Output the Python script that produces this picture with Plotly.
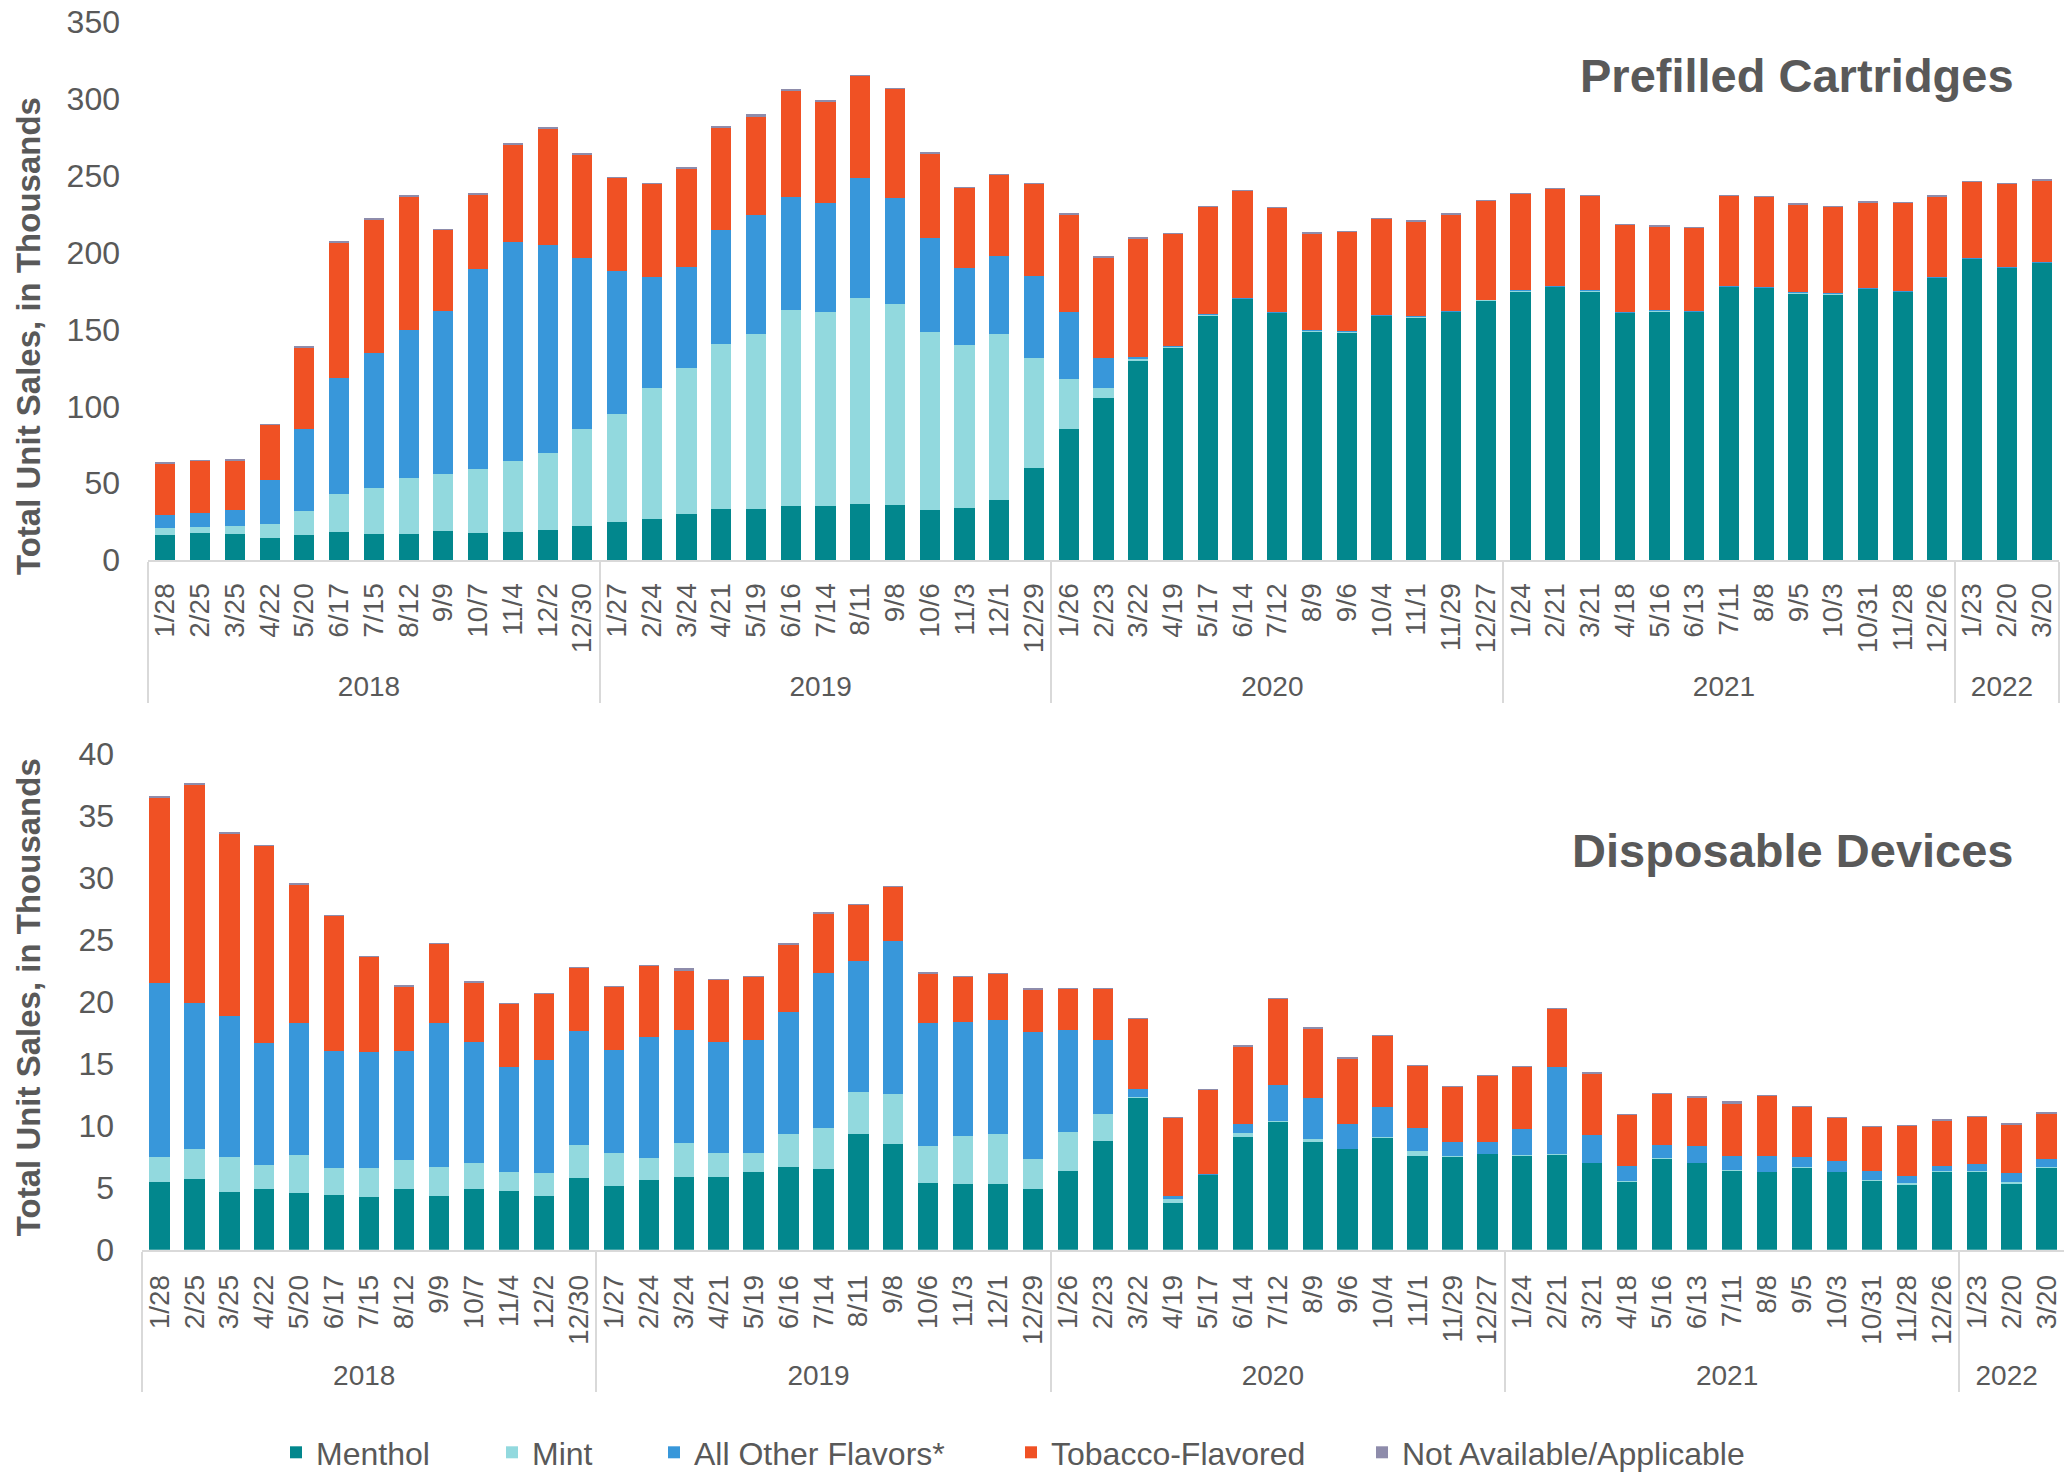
import plotly.graph_objects as go

# ---------------- categories ----------------
week_labels = ["1/28", "2/25", "3/25", "4/22", "5/20", "6/17", "7/15", "8/12", "9/9", "10/7", "11/4", "12/2", "12/30",
               "1/27", "2/24", "3/24", "4/21", "5/19", "6/16", "7/14", "8/11", "9/8", "10/6", "11/3", "12/1", "12/29",
               "1/26", "2/23", "3/22", "4/19", "5/17", "6/14", "7/12", "8/9", "9/6", "10/4", "11/1", "11/29", "12/27",
               "1/24", "2/21", "3/21", "4/18", "5/16", "6/13", "7/11", "8/8", "9/5", "10/3", "10/31", "11/28", "12/26",
               "1/23", "2/20", "3/20"]
years = ["2018", "2019", "2020", "2021", "2022"]
weeks_per_year = [13, 13, 13, 13, 3]
year_labels = [y for y, n in zip(years, weeks_per_year) for _ in range(n)]

series_names = ["Menthol", "Mint", "All Other Flavors*", "Tobacco-Flavored", "Not Available/Applicable"]
series_colors = ["#02878D", "#92D9DE", "#3897DA", "#F05124", "#8E8CAB"]

# ---------------- Prefilled Cartridges (thousands) ----------------
cart_menthol = [16.5, 17.7, 17.0, 14.5, 16.3, 18.2, 17.2, 17.0, 18.7, 17.7, 18.5, 19.7, 22.2,
                24.5, 26.7, 30.0, 32.9, 33.4, 35.1, 35.1, 36.4, 35.6, 32.7, 33.9, 39.1, 60.1,
                85.6, 105.2, 130.0, 138.4, 159.2, 170.0, 161.0, 148.9, 148.2, 158.8, 158.0, 161.3, 168.9,
                174.9, 177.6, 174.9, 160.8, 161.8, 161.3, 177.6, 176.9, 173.6, 172.9, 176.4, 174.4, 183.5,
                196.1, 190.2, 193.2]
cart_mint = [4.4, 3.7, 5.2, 8.9, 15.7, 24.9, 29.4, 36.2, 37.2, 41.7, 46.0, 50.0, 62.8,
             70.8, 85.3, 95.0, 107.4, 113.6, 127.5, 126.5, 133.9, 130.9, 115.5, 106.1, 107.9, 71.2,
             32.2, 6.9, 1.0, 0.2, 0.2, 0.2, 0.2, 0.2, 0.2, 0.2, 0.2, 0.2, 0.2,
             0.2, 0.2, 0.2, 0.2, 0.2, 0.2, 0.2, 0.2, 0.2, 0.2, 0.2, 0.2, 0.2,
             0.2, 0.2, 0.2]
cart_other = [8.7, 8.9, 10.6, 28.8, 53.0, 75.4, 88.1, 96.3, 106.4, 130.0, 142.4, 135.0, 111.3,
              92.6, 72.0, 65.6, 74.6, 77.5, 73.8, 70.6, 78.0, 69.1, 61.6, 50.3, 51.0, 53.7,
              43.5, 19.3, 1.4, 0.4, 0.4, 0.4, 0.4, 0.4, 0.7, 0.7, 0.4, 0.4, 0.4,
              0.4, 0.4, 0.4, 0.4, 0.4, 0.4, 0.4, 0.4, 0.4, 0.4, 0.4, 0.4, 0.4,
              0.4, 0.4, 0.8]
cart_tobacco = [33.2, 34.2, 32.0, 35.7, 52.9, 88.2, 86.5, 87.2, 52.5, 48.3, 63.3, 76.3, 67.0,
                60.6, 60.8, 63.6, 66.5, 64.3, 69.1, 65.8, 67.0, 70.9, 54.9, 52.0, 52.8, 60.0,
                63.7, 65.6, 77.0, 73.4, 70.1, 69.8, 67.4, 63.0, 64.6, 62.4, 61.8, 63.1, 64.2,
                62.9, 63.5, 61.5, 56.8, 54.8, 54.1, 58.8, 58.7, 57.3, 56.5, 55.7, 57.3, 52.6,
                49.4, 53.8, 52.9]
cart_na = [0.3, 0.3, 1.2, 0.3, 1.3, 1.2, 1.2, 0.3, 0.3, 1.2, 1.2, 0.3, 1.5,
           0.3, 0.3, 1.5, 0.3, 1.2, 1.2, 1.0, 0.2, 0.2, 0.2, 0.2, 0.2, 0.2,
           0.2, 0.2, 0.2, 0.2, 0.2, 0.2, 0.2, 0.2, 0.2, 0.2, 0.2, 0.2, 0.2,
           0.2, 0.2, 0.2, 0.2, 0.2, 0.2, 0.2, 0.2, 0.2, 0.2, 0.2, 0.2, 0.2,
           0.2, 0.2, 0.2]

# ---------------- Disposable Devices (thousands) ----------------
disp_menthol = [5.43, 5.69, 4.66, 4.86, 4.54, 4.37, 4.23, 4.86, 4.31, 4.89, 4.69, 4.31, 5.74,
                5.10, 5.60, 5.85, 5.86, 6.29, 6.63, 6.49, 9.34, 8.54, 5.37, 5.31, 5.26, 4.86,
                6.34, 8.74, 12.20, 3.77, 6.03, 9.11, 10.31, 8.66, 8.09, 9.00, 7.51, 7.49, 7.69,
                7.57, 7.66, 6.97, 5.46, 7.31, 6.97, 6.37, 6.23, 6.57, 6.23, 5.57, 5.17, 6.26,
                6.31, 5.31, 6.60]
disp_mint = [2.03, 2.42, 2.80, 2.00, 3.12, 2.20, 2.34, 2.37, 2.32, 2.08, 1.57, 1.89, 2.66,
             2.65, 1.80, 2.75, 1.94, 1.51, 2.71, 3.28, 3.40, 3.97, 2.97, 3.83, 4.03, 2.45,
             3.12, 2.20, 0.14, 0.29, 0.00, 0.26, 0.04, 0.25, 0.05, 0.05, 0.43, 0.05, 0.05,
             0.05, 0.05, 0.05, 0.05, 0.05, 0.05, 0.05, 0.05, 0.09, 0.05, 0.05, 0.17, 0.05,
             0.05, 0.12, 0.05]
disp_other = [14.04, 11.79, 11.37, 9.83, 10.63, 9.43, 9.34, 8.74, 11.66, 9.74, 8.43, 9.11, 9.20,
              8.31, 9.71, 9.11, 8.94, 9.11, 9.80, 12.54, 10.52, 12.35, 9.95, 9.23, 9.22, 10.20,
              8.28, 5.97, 0.63, 0.23, 0.05, 0.77, 2.94, 3.35, 2.00, 2.44, 1.89, 1.12, 0.92,
              2.07, 7.03, 2.21, 1.23, 1.07, 1.35, 1.15, 1.23, 0.80, 0.83, 0.69, 0.57, 0.43,
              0.58, 0.74, 0.66]
disp_tobacco = [14.90, 17.56, 14.71, 15.82, 11.14, 10.89, 7.66, 5.17, 6.37, 4.83, 5.08, 5.32, 5.09,
                5.14, 5.75, 4.78, 4.97, 5.06, 5.43, 4.78, 4.54, 4.34, 3.97, 3.60, 3.69, 3.46,
                3.26, 4.09, 5.60, 6.31, 6.78, 6.23, 6.94, 5.57, 5.26, 5.74, 5.00, 4.48, 5.34,
                5.05, 4.63, 4.97, 4.12, 4.14, 3.89, 4.14, 4.86, 4.05, 3.49, 3.55, 4.03, 3.60,
                3.77, 3.92, 3.66]
disp_na = [0.20, 0.12, 0.12, 0.02, 0.02, 0.02, 0.02, 0.17, 0.02, 0.02, 0.02, 0.02, 0.02,
           0.02, 0.02, 0.17, 0.02, 0.02, 0.14, 0.14, 0.02, 0.02, 0.02, 0.02, 0.02, 0.02,
           0.02, 0.02, 0.02, 0.02, 0.02, 0.02, 0.02, 0.02, 0.02, 0.02, 0.02, 0.02, 0.02,
           0.02, 0.02, 0.02, 0.02, 0.02, 0.02, 0.29, 0.02, 0.02, 0.02, 0.02, 0.02, 0.20,
           0.02, 0.02, 0.02]

cart_series = [cart_menthol, cart_mint, cart_other, cart_tobacco, cart_na]
disp_series = [disp_menthol, disp_mint, disp_other, disp_tobacco, disp_na]

W, H = 2066, 1480
TEXT = "#595959"
FONT = "Liberation Sans, Arial, sans-serif"

# one legend per series so the entries sit where the reference puts them
legend_ids = ["legend", "legend2", "legend3", "legend4", "legend5"]
legend_left_px = [276, 492, 654, 1011, 1362]

fig = go.Figure()
x_multi = [year_labels, week_labels]

for name, color, vals, lid in zip(series_names, series_colors, cart_series, legend_ids):
    fig.add_trace(go.Bar(x=x_multi, y=vals, name=name, marker=dict(color=color, line=dict(width=0)),
                         xaxis="x", yaxis="y", legendgroup=name, showlegend=True, legend=lid))
for name, color, vals in zip(series_names, series_colors, disp_series):
    fig.add_trace(go.Bar(x=x_multi, y=vals, name=name, marker=dict(color=color, line=dict(width=0)),
                         xaxis="x2", yaxis="y2", legendgroup=name, showlegend=False))

xaxis_common = dict(
    type="multicategory", showline=True, linecolor="#D9D9D9", linewidth=2,
    tickangle=-90, tickfont=dict(family=FONT, size=28, color=TEXT),
    showdividers=True, dividercolor="#D9D9D9", dividerwidth=2,
    ticks="", showgrid=False, zeroline=False, automargin=False,
)
yaxis_common = dict(
    showgrid=False, zeroline=False, showline=False, ticks="",
    tickfont=dict(family=FONT, size=32, color=TEXT), automargin=False,
    ticklabelstandoff=27,
)

legend_layout = {}
for lid, lx in zip(legend_ids, legend_left_px):
    legend_layout[lid] = dict(orientation="h", x=lx / W, xanchor="left", y=1 - 1438 / H, yanchor="top",
                              font=dict(family=FONT, size=32, color=TEXT), bgcolor="rgba(0,0,0,0)",
                              itemwidth=30)

fig.update_layout(
    width=W, height=H,
    margin=dict(l=0, r=0, t=0, b=0),
    paper_bgcolor="white", plot_bgcolor="white",
    barmode="stack", bargap=0.42,
    font=dict(family=FONT, color=TEXT),
    xaxis=dict(domain=[148 / W, 2059 / W], anchor="y", ticklabelstandoff=10, **xaxis_common),
    yaxis=dict(domain=[1 - 565 / H, 1 - 22.4 / H], range=[0, 350], dtick=50, anchor="x", **yaxis_common),
    xaxis2=dict(domain=[142 / W, 2064 / W], anchor="y2", ticklabelstandoff=12, **xaxis_common),
    yaxis2=dict(domain=[1 - 1260.7 / H, 1 - 760 / H], range=[0, 40], dtick=5, anchor="x2", **yaxis_common),
    annotations=[
        dict(text="<b>Prefilled Cartridges</b>", x=2016 / W, y=1 - 76 / H, xref="paper", yref="paper",
             xanchor="right", yanchor="middle", showarrow=False,
             font=dict(family=FONT, size=47, color=TEXT)),
        dict(text="<b>Disposable Devices</b>", x=2016 / W, y=1 - 858 / H, xref="paper", yref="paper",
             xanchor="right", yanchor="middle", showarrow=False,
             font=dict(family=FONT, size=47, color=TEXT)),
        dict(text="<b>Total Unit Sales, in Thousands</b>", x=28 / W, y=1 - 339 / H, xref="paper", yref="paper",
             xanchor="center", yanchor="middle", textangle=-90, showarrow=False,
             font=dict(family=FONT, size=33, color=TEXT)),
        dict(text="<b>Total Unit Sales, in Thousands</b>", x=28 / W, y=1 - 1006 / H, xref="paper", yref="paper",
             xanchor="center", yanchor="middle", textangle=-90, showarrow=False,
             font=dict(family=FONT, size=33, color=TEXT)),
    ],
    **legend_layout,
)

# remove the browser's default 8px page margin so the figure sits at the window origin
fig.write_html("out.html", config={"displayModeBar": False},
               post_script="document.body.style.margin='0';")
